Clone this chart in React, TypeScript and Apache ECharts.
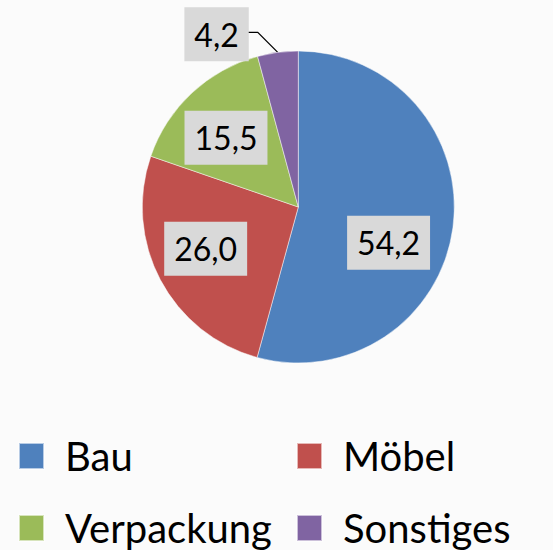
import React, { useEffect, useRef } from "react";
import * as echarts from "echarts";

const categories = ["Bau", "Möbel", "Verpackung", "Sonstiges"];
const values = [54.2, 26.0, 15.5, 4.2];
const colors = ["#4F81BD", "#C0504D", "#9BBB59", "#8064A2"];
const labelOffsets: number[][] = [[10, 25], [-21, 4], [-17, -10], [0, 0]];
const legendLeft = [18, 296, 18, 296];
const legendTop = [436, 436, 508, 508];

const FONT = "Lato, 'Open Sans', sans-serif";

export default function App() {
  const ref = useRef<HTMLDivElement>(null);
  useEffect(() => {
    if (!ref.current) return;
    const chart = echarts.init(ref.current, null, { renderer: "svg" });
    const labelBase = {
      fontFamily: FONT,
      fontSize: 32,
      lineHeight: 34,
      color: "#000",
      backgroundColor: "#D9D9D9",
      padding: [10, 10, 10, 10],
      formatter: (p: any) => p.value.toFixed(1).replace(".", ","),
    };
    const data = categories.map((name, i) => ({
      name,
      value: values[i],
      itemStyle: { color: colors[i] },
      label:
        i === 3
          ? { ...labelBase, position: "outside" }
          : { ...labelBase, position: "inside", offset: labelOffsets[i] },
      labelLine:
        i === 3
          ? { show: true, length: 20, length2: 10, lineStyle: { color: "#000", width: 1.3 } }
          : { show: false },
    }));
    const legends = categories.map((name, i) => ({
      orient: "horizontal",
      left: legendLeft[i],
      top: legendTop[i],
      padding: 0,
      itemWidth: 25,
      itemHeight: 26,
      icon: "rect",
      selectedMode: false,
      data: [name],
      textStyle: {
        fontFamily: FONT,
        fontSize: 40,
        lineHeight: 40,
        color: "#000",
        padding: [0, 0, 0, 16],
      },
    }));
    chart.setOption({
      animation: false,
      backgroundColor: "#FBFBFB",
      legend: legends,
      series: [
        {
          type: "pie",
          center: [298.3, 207],
          radius: 156,
          startAngle: 90,
          clockwise: true,
          silent: true,
          avoidLabelOverlap: false,
          itemStyle: { borderColor: "rgba(255,255,255,0.6)", borderWidth: 0.8 },
          emphasis: { disabled: true },
          data,
          labelLayout: (params: any) => {
            if (params.dataIndex !== 3) return {};
            const pts = params.labelLinePoints;
            let p0: number[];
            if (pts && pts.length) {
              p0 = pts[0];
            } else {
              p0 = [277.7, 52.4];
            }
            const p1 = [p0[0] - 20, p0[1] - 20];
            const p2 = [p1[0] - 10, p1[1]];
            return {
              x: p2[0] + 1,
              y: p2[1] + 2,
              align: "right",
              verticalAlign: "middle",
              labelLinePoints: [p0, p1, p2],
            };
          },
        },
      ],
    });
    return () => chart.dispose();
  }, []);
  return (
    <div
      ref={ref}
      style={{ position: "fixed", left: 0, top: 0, width: 553, height: 550 }}
    />
  );
}
